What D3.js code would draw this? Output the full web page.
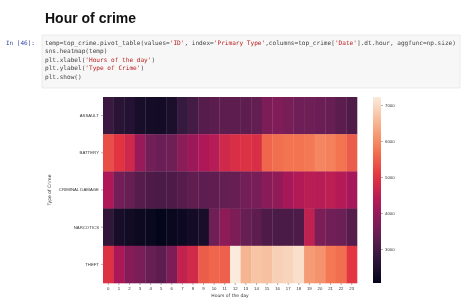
<!DOCTYPE html>
<html>
<head>
<meta charset="utf-8">
<script src="https://cdn.jsdelivr.net/npm/d3@7"></script>
<style>
  html, body { margin: 0; padding: 0; background: #fff; }
  svg { display: block; filter: blur(0.35px); }
</style>
</head>
<body>
<div id="chart"></div>
<script>
// Values (counts per hour of the day)
const hours = d3.range(0, 24);
const crimeTypes = ["ASSAULT", "BATTERY", "CRIMINAL DAMAGE", "NARCOTICS", "THEFT"];

const assault = [2850, 2620, 2540, 2380, 2320, 2300, 2420, 2790, 2980, 3200, 3260, 3300,
                 3290, 3300, 3360, 3680, 3720, 3630, 3520, 3510, 3460, 3400, 3250, 3120];
const battery = [5310, 5000, 4740, 4010, 3560, 3460, 3500, 3850, 4050, 4290, 4390, 4740,
                 4890, 4950, 4890, 5570, 5670, 5720, 5720, 5770, 5930, 5880, 5720, 5460];
const criminalDamage = [4300, 3580, 3420, 3200, 3100, 3050, 3100, 3200, 3320, 3310, 3330, 3370,
                        3420, 3580, 3630, 3830, 3930, 4200, 4330, 4420, 4410, 4470, 4360, 4180];
const narcotics = [2720, 2360, 2260, 2200, 2150, 2055, 2160, 2210, 2310, 2380, 3500, 3880,
                   3680, 3400, 3300, 3100, 3050, 3040, 3100, 4520, 3680, 3540, 3480, 3200];
const theft = [4950, 4260, 3780, 3640, 3400, 3300, 3680, 4560, 4760, 5460, 5570, 5510,
               7220, 6500, 6700, 6650, 6860, 6910, 7060, 6190, 6080, 5770, 5670, 5050];

const colorbarTicks = [3000, 4000, 5000, 6000, 7000];

const codeLines = [
    "temp=top_crime.pivot_table(values='ID', index='Primary Type',columns=top_crime['Date'].dt.hour, aggfunc=np.size)",
    "sns.heatmap(temp)",
    "plt.xlabel('Hours of the day')",
    "plt.ylabel('Type of Crime')",
    "plt.show()"
];

// seaborn "rocket" colour map stops
const rocket = ["#03051a", "#35193e", "#701f57", "#ad1759", "#e13342", "#f37651", "#f6b48f", "#faebdd"];

const series = [assault, battery, criminalDamage, narcotics, theft];

const W = 462, H = 300;
const svg = d3.select("#chart").append("svg")
    .attr("width", W)
    .attr("height", H)
    .style("font-family", "'DejaVu Sans', sans-serif");

// Title
svg.append("text")
    .attr("x", 45).attr("y", 23)
    .style("font-family", "'Liberation Sans', Arial, sans-serif")
    .style("font-weight", "bold")
    .style("font-size", "14px")
    .attr("fill", "#111")
    .text("Hour of crime");

// Code cell
svg.append("rect")
    .attr("x", 42).attr("y", 35)
    .attr("width", 418).attr("height", 53)
    .attr("fill", "#f7f7f7")
    .attr("stroke", "#e0e0e0")
    .attr("stroke-width", 0.6);

svg.append("text")
    .attr("x", 6).attr("y", 45)
    .style("font-family", "'DejaVu Sans Mono', monospace")
    .style("font-size", "6px")
    .attr("fill", "#303f9f")
    .text("In [46]:");

const code = svg.append("g")
    .style("font-family", "'DejaVu Sans Mono', monospace")
    .style("font-size", "6.1px");

codeLines.forEach((line, i) => {
    const t = code.append("text")
        .attr("x", 45)
        .attr("y", 45 + i * 8.4)
        .attr("xml:space", "preserve");
    line.split(/('[^']*')/).forEach(part => {
        if (!part) return;
        t.append("tspan")
            .attr("fill", part.startsWith("'") ? "#ba2121" : "#444")
            .text(part);
    });
});

// Heatmap
const margin = {left: 103, top: 97, right: 357, bottom: 283};

const x = d3.scaleBand()
    .domain(hours)
    .range([margin.left, margin.right]);

const y = d3.scaleBand()
    .domain(crimeTypes)
    .range([margin.top, margin.bottom]);

const allValues = series.flat();
const color = d3.scaleSequential(d3.piecewise(d3.interpolateRgb, rocket))
    .domain(d3.extent(allValues));

const cells = [];
crimeTypes.forEach((c, i) => {
    hours.forEach((h, j) => cells.push({type: c, hour: h, val: series[i][j]}));
});

svg.append("g")
    .selectAll("rect")
    .data(cells)
    .enter()
    .append("rect")
    .attr("x", d => x(d.hour))
    .attr("y", d => y(d.type))
    .attr("width", x.bandwidth() + 0.3)
    .attr("height", y.bandwidth() + 0.3)
    .attr("fill", d => color(d.val));

// Axes
const yAxis = svg.append("g")
    .attr("transform", "translate(" + margin.left + ",0)")
    .call(d3.axisLeft(y).tickSize(2).tickPadding(2));
yAxis.selectAll("text").style("font-size", "4.3px").attr("fill", "#333");

const xAxis = svg.append("g")
    .attr("transform", "translate(0," + margin.bottom + ")")
    .call(d3.axisBottom(x).tickSize(2).tickPadding(2));
xAxis.selectAll("text").style("font-size", "4.3px").attr("fill", "#333");

svg.selectAll(".domain").remove();
svg.selectAll(".tick line").attr("stroke", "#444").attr("stroke-width", 0.4);

svg.append("text")
    .attr("x", (margin.left + margin.right) / 2)
    .attr("y", 297)
    .attr("text-anchor", "middle")
    .style("font-size", "4.5px")
    .attr("fill", "#333")
    .text("Hours of the day");

svg.append("text")
    .attr("transform", "translate(51," + ((margin.top + margin.bottom) / 2) + ") rotate(-90)")
    .attr("text-anchor", "middle")
    .style("font-size", "4.5px")
    .attr("fill", "#333")
    .text("Type of Crime");

// Colour bar
const cb = {x: 373, w: 8};
const cbScale = d3.scaleLinear()
    .domain(color.domain())
    .range([margin.bottom, margin.top]);

const grad = svg.append("defs").append("linearGradient")
    .attr("id", "cbgrad")
    .attr("x1", 0).attr("y1", 1).attr("x2", 0).attr("y2", 0);
d3.range(0, 1.0001, 0.05).forEach(t => {
    grad.append("stop")
        .attr("offset", t)
        .attr("stop-color", color(color.domain()[0] + t * (color.domain()[1] - color.domain()[0])));
});

svg.append("rect")
    .attr("x", cb.x).attr("y", margin.top)
    .attr("width", cb.w).attr("height", margin.bottom - margin.top)
    .attr("fill", "url(#cbgrad)");

const cbAxis = svg.append("g")
    .attr("transform", "translate(" + (cb.x + cb.w) + ",0)")
    .call(d3.axisRight(cbScale).tickValues(colorbarTicks).tickFormat(d3.format("d"))
        .tickSize(2).tickPadding(2));
cbAxis.select(".domain").remove();
cbAxis.selectAll("text").style("font-size", "4.3px").attr("fill", "#333");
cbAxis.selectAll(".tick line").attr("stroke", "#444").attr("stroke-width", 0.4);
</script>
</body>
</html>
